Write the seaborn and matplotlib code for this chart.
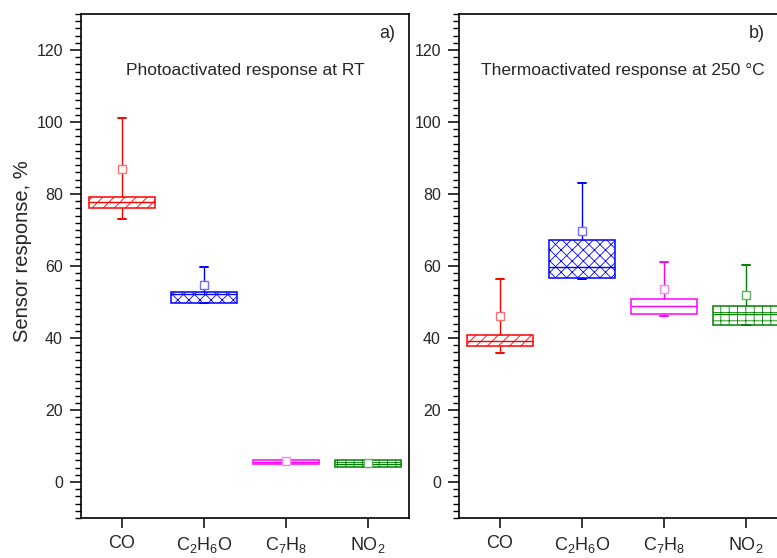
import matplotlib
matplotlib.use("Agg")
import matplotlib.pyplot as plt
from matplotlib.ticker import MultipleLocator
import pandas as pd
import seaborn as sns

# Gases on the x axis
gases = ["CO", "C2H6O", "C7H8", "NO2"]
gas_labels = ["CO", "C$_2$H$_6$O", "C$_7$H$_8$", "NO$_2$"]

# Photoactivated response at room temperature (%)
photo_low = [73.1, 49.7, 5.0, 4.1]
photo_q1 = [76.1, 49.7, 5.0, 4.1]
photo_median = [77.9, 52.2, 5.6, 5.0]
photo_q3 = [79.1, 52.7, 6.2, 6.0]
photo_high = [101.2, 59.7, 6.2, 6.0]
photo_mean = [87.0, 54.8, 5.8, 5.2]

# Thermoactivated response at 250 °C (%)
thermo_low = [35.7, 56.5, 46.1, 43.5]
thermo_q1 = [37.8, 56.7, 46.6, 43.7]
thermo_median = [39.3, 59.7, 48.9, 46.8]
thermo_q3 = [40.8, 67.1, 50.7, 48.8]
thermo_high = [56.5, 83.1, 61.2, 60.4]
thermo_mean = [46.0, 69.8, 53.6, 51.9]

colors = ["#ff0000", "#0000ff", "#ff00ff", "#008000"]
mean_colors = ["#ff7070", "#7070ff", "#ff80ff", "#60b060"]
hatches = ["///", "xxx", "", "++"]

sns.set_style("ticks")
plt.rcParams["font.family"] = ["Liberation Sans", "DejaVu Sans"]
plt.rcParams["mathtext.default"] = "regular"
plt.rcParams["hatch.linewidth"] = 0.6


def summary_frame(low, q1, med, q3, high):
    rows = []
    for i, g in enumerate(gases):
        for v in (low[i], q1[i], med[i], q3[i], high[i]):
            rows.append({"gas": g, "value": v})
    return pd.DataFrame(rows)


def draw_panel(ax, df, means, title, tag, tag_x):
    sns.boxplot(data=df, x="gas", y="value", hue="gas", order=gases,
                hue_order=gases, palette=colors, whis=(0, 100), width=0.8,
                showfliers=False, legend=False, linewidth=1.1,
                capwidths=0.1, ax=ax)
    for cont, c, h in zip(ax.containers, colors, hatches):
        for b in cont.boxes:
            b.set_facecolor("white")
            b.set_edgecolor(c)
            b.set_hatch(h)
            b.set_linewidth(1.1)
        for ln in list(cont.medians) + list(cont.whiskers):
            ln.set_color(c)
            ln.set_linewidth(1.0)
        for ln in cont.caps:
            ln.set_color(c)
            ln.set_linewidth(1.4)
    for i, (m, mc) in enumerate(zip(means, mean_colors)):
        ax.plot(i, m, marker="s", ms=6.2, mfc="white", mec=mc, mew=1.0,
                zorder=5)

    ax.set_xlim(-0.5, 3.5)
    ax.set_ylim(-10, 130)
    ax.set_xticks(range(len(gases)))
    ax.set_xticklabels(gas_labels)
    ax.set_xlabel("")
    ax.set_ylabel("")
    ax.yaxis.set_major_locator(MultipleLocator(20))
    ax.yaxis.set_minor_locator(MultipleLocator(2))
    ax.tick_params(axis="y", which="major", direction="out", length=8,
                   width=1.1, labelsize=11.5, pad=5, color="black")
    ax.tick_params(axis="y", which="minor", direction="out", length=4.5,
                   width=1.0, color="black")
    ax.tick_params(axis="x", which="major", direction="out", length=7.5,
                   width=1.1, labelsize=13, pad=5, color="black")
    for sp in ax.spines.values():
        sp.set_visible(True)
        sp.set_linewidth(1.2)
        sp.set_color("black")
    ax.text(0.5, 0.879, title, transform=ax.transAxes, ha="center",
            va="baseline", fontsize=12.5)
    ax.text(tag_x, 0.953, tag, transform=ax.transAxes, ha="left",
            va="baseline", fontsize=13)


fig = plt.figure(figsize=(7.77, 5.58), dpi=100)
ax_a = fig.add_axes([81 / 777, 40 / 558, 328 / 777, 504 / 558])
ax_b = fig.add_axes([459 / 777, 40 / 558, 328 / 777, 504 / 558])

photo = summary_frame(photo_low, photo_q1, photo_median, photo_q3, photo_high)
thermo = summary_frame(thermo_low, thermo_q1, thermo_median, thermo_q3,
                       thermo_high)

draw_panel(ax_a, photo, photo_mean, "Photoactivated response at RT", "a)", 0.909)
draw_panel(ax_b, thermo, thermo_mean, "Thermoactivated response at 250 °C", "b)", 0.884)

ax_a.set_ylabel("Sensor response, %", fontsize=14.5)
ax_a.yaxis.set_label_coords(-0.15, 0.53)

fig.savefig("out.png", dpi=100)
